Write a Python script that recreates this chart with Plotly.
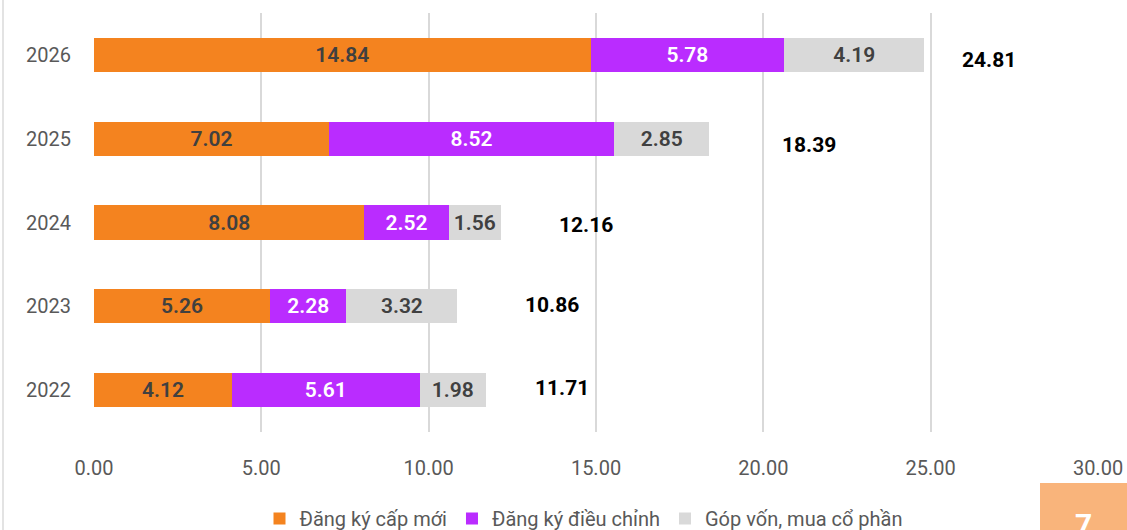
import plotly.graph_objects as go

years = ["2022", "2023", "2024", "2025", "2026"]
dang_ky_moi = [4.12, 5.26, 8.08, 7.02, 14.84]
dieu_chinh = [5.61, 2.28, 2.52, 8.52, 5.78]
gop_von = [1.98, 3.32, 1.56, 2.85, 4.19]
totals = [11.71, 10.86, 12.16, 18.39, 24.81]
x_ticks = [0, 5, 10, 15, 20, 25, 30]

# where the total labels sit, relative to bar end (labels were placed by hand)
label_dx = [1.41, 1.96, 1.67, 2.11, 1.06]
label_dy = [2, 1, -2, -6, -5]

FONT = "Roboto"
W, H = 1127, 530
L, T = 94, 13
PW, PH = 1004, 419
R, B = W - L - PW, H - T - PH


def px_x(p):
    return (p - L) / PW


def px_y(p):
    return (H - B - p) / PH


series = [
    ("Đăng ký cấp mới", dang_ky_moi, "#F4831F", "#404040"),
    ("Đăng ký điều chỉnh", dieu_chinh, "#BA2CFF", "#FFFFFF"),
    ("Góp vốn, mua cổ phần", gop_von, "#D9D9D9", "#404040"),
]

fig = go.Figure()
for name, vals, color, tcol in series:
    fig.add_trace(go.Bar(
        y=years, x=vals, name=name, orientation="h",
        marker=dict(color=color, line=dict(width=0)),
        width=0.41,
        text=[f"{v:.2f}" for v in vals],
        textposition="inside", insidetextanchor="middle", textangle=0,
        constraintext="none",
        insidetextfont=dict(family=FONT, size=21, color=tcol, weight=600),
        hoverinfo="x+name",
    ))

# y given as category index so plotly doesn't read "2022" as a position
for i, (tot, dx, dy) in enumerate(zip(totals, label_dx, label_dy)):
    fig.add_annotation(
        x=tot + dx, y=i, text=f"{tot:.2f}", showarrow=False,
        xanchor="left", yanchor="middle", yshift=dy,
        font=dict(family=FONT, size=21, color="#000000", weight=700),
    )

# left border of the slide and page number box
fig.add_shape(type="line", xref="paper", yref="paper",
              x0=px_x(3), x1=px_x(3), y0=px_y(-5), y1=px_y(H + 5),
              line=dict(color="#E3E3E3", width=2))
fig.add_shape(type="rect", xref="paper", yref="paper",
              x0=px_x(1040), x1=px_x(1140), y0=px_y(483), y1=px_y(545),
              fillcolor="#F9B47B", line=dict(width=0), layer="above")
fig.add_annotation(xref="paper", yref="paper", x=px_x(1083), y=px_y(505),
                   text="7", showarrow=False, xanchor="center", yanchor="top",
                   font=dict(family=FONT, size=30, color="#FFFFFF", weight=700))

fig.update_layout(
    width=W, height=H,
    margin=dict(l=L, r=R, t=T, b=B, autoexpand=False),
    barmode="stack",
    paper_bgcolor="white", plot_bgcolor="white",
    font=dict(family=FONT, size=20, color="#595959"),
    showlegend=True,
    legend=dict(orientation="h", x=px_x(584), xanchor="center",
                y=px_y(499), yanchor="top",
                font=dict(family=FONT, size=20, color="#595959"),
                itemwidth=30, tracegroupgap=0,
                traceorder="normal"),
)
fig.update_xaxes(range=[0, 30], tickvals=x_ticks,
                 ticktext=[f"{v:.2f}" for v in x_ticks],
                 showgrid=True, gridcolor="#D9D9D9", gridwidth=2,
                 zeroline=False, showline=False, ticks="",
                 ticklabelstandoff=22, fixedrange=True)
fig.update_yaxes(type="category", range=[-0.5, 4.5], showgrid=False,
                 zeroline=False, showline=False, ticks="",
                 ticklabelstandoff=22, fixedrange=True)

# drop the default 8px body margin so the figure sits in the window corner
fig.write_html("out.html", config={"displayModeBar": False},
               post_script="document.body.style.margin='0';")
